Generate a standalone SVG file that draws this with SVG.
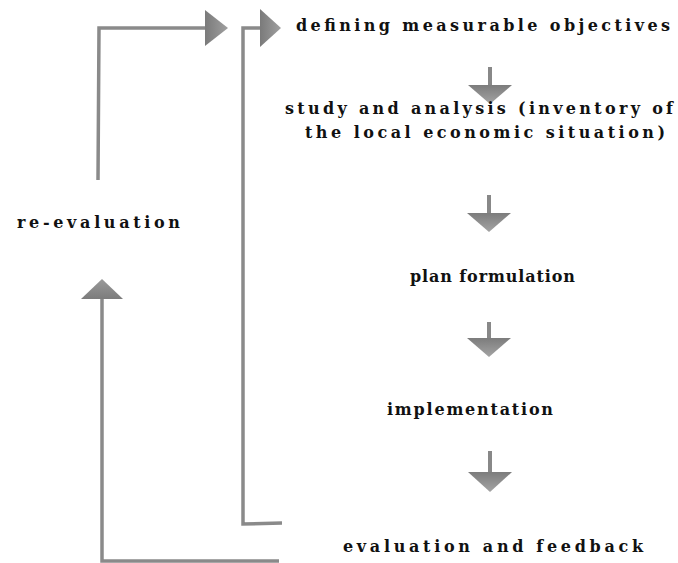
<svg xmlns="http://www.w3.org/2000/svg" width="678" height="563" viewBox="0 0 678 563">
<defs>
<linearGradient id="gdown" x1="0" y1="0" x2="0" y2="1">
<stop offset="0" stop-color="#7c7c7c"/>
<stop offset="1" stop-color="#a4a4a4"/>
</linearGradient>
<linearGradient id="gright" x1="0" y1="0" x2="1" y2="0">
<stop offset="0" stop-color="#7a7a7a"/>
<stop offset="1" stop-color="#a0a0a0"/>
</linearGradient>
<linearGradient id="gup" x1="0" y1="1" x2="0" y2="0">
<stop offset="0" stop-color="#7c7c7c"/>
<stop offset="1" stop-color="#9a9a9a"/>
</linearGradient>
</defs>
<style>
.t{font-family:"DejaVu Serif","Liberation Serif",serif;font-size:16px;font-weight:bold;fill:#111;}
.ln{fill:none;stroke:#8a8a8a;stroke-width:3.5;stroke-linejoin:miter;}
.sh{fill:none;stroke:#888;stroke-width:4;}
.hd{fill:url(#gdown);}
.hr{fill:url(#gright);}
.hu{fill:url(#gup);}
</style>
<rect width="678" height="563" fill="#ffffff"/>
<g id="connectors">
<polyline class="ln" points="279,561 102,561 102,298"/>
<polygon class="hu" points="102,279 81,299 123,299"/>
<polyline class="ln" points="98,180 99,28 206,28"/>
<polygon class="hr" points="205,10 228,28 205,46"/>
<polyline class="ln" points="282,523 243,524 243,28 261,28"/>
<polygon class="hr" points="260,9 281,28 260,47"/>
<line class="sh" x1="490" y1="67" x2="490" y2="86"/>
<polygon class="hd" points="468,85 512,85 490,104"/>
<line class="sh" x1="489" y1="195" x2="489" y2="214"/>
<polygon class="hd" points="467,213 511,213 489,232"/>
<line class="sh" x1="489" y1="322" x2="489" y2="339"/>
<polygon class="hd" points="467,338 511,338 489,357"/>
<line class="sh" x1="490" y1="451" x2="490" y2="473"/>
<polygon class="hd" points="468,472 512,472 490,492"/>
</g>
<g id="node-objectives">
<text class="t" x="296" y="31" textLength="374" lengthAdjust="spacing">defining measurable objectives</text>
</g>
<g id="node-study">
<text class="t" x="285" y="114" textLength="388" lengthAdjust="spacing">study and analysis (inventory of</text>
<text class="t" x="305" y="138" textLength="360" lengthAdjust="spacing">the local economic situation)</text>
</g>
<g id="node-reevaluation">
<text class="t" x="17" y="228" textLength="163" lengthAdjust="spacing">re-evaluation</text>
</g>
<g id="node-plan">
<text class="t" x="410" y="282" textLength="165" lengthAdjust="spacing">plan formulation</text>
</g>
<g id="node-implementation">
<text class="t" x="387" y="415" textLength="166" lengthAdjust="spacing">implementation</text>
</g>
<g id="node-evaluation">
<text class="t" x="343" y="552" textLength="300" lengthAdjust="spacing">evaluation and feedback</text>
</g>
</svg>
